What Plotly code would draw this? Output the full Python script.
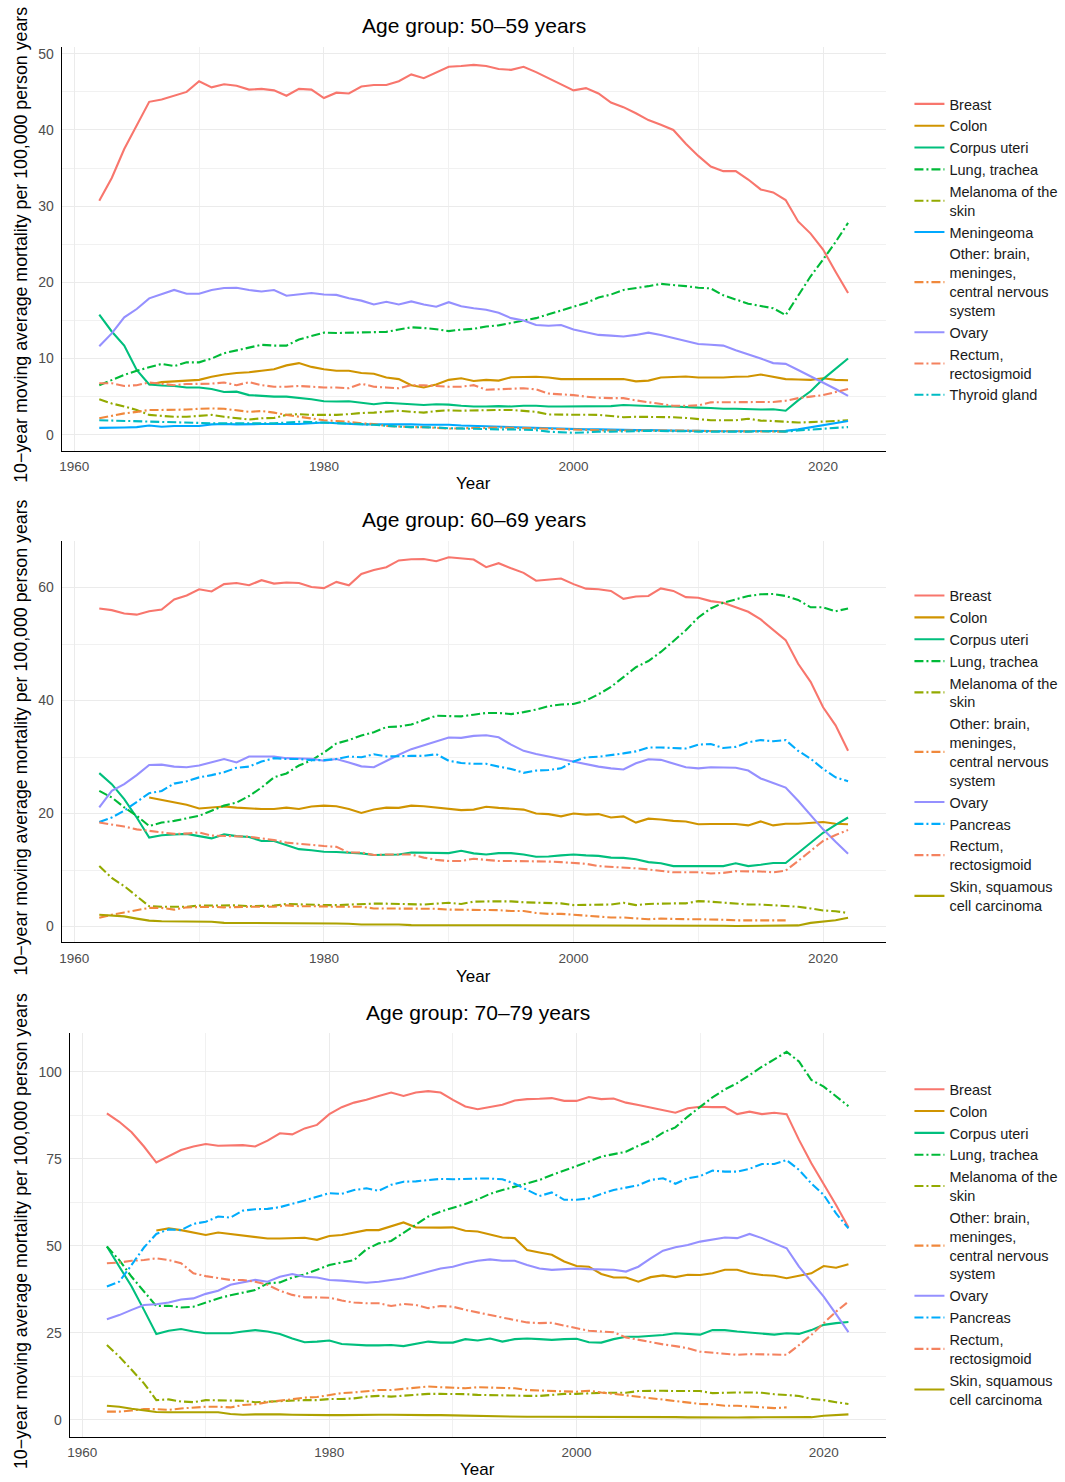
import plotly.graph_objects as go

NA = None
years = list(range(1962, 2023))

# ---------------- Age group 50-59 ----------------
breast_50 = [30.7, 33.7, 37.5, 40.7, 43.7, 44.0, 44.5, 45.0, 46.4, 45.6,
             46.0, 45.8, 45.3, 45.4, 45.2, 44.5, 45.4, 45.3, 44.2, 44.9,
             44.8, 45.7, 45.9, 45.9, 46.4, 47.3, 46.8, 47.5, 48.3, 48.4,
             48.55, 48.4, 48.0, 47.9, 48.3, 47.6, 46.8, 46.0, 45.2, 45.5,
             44.8, 43.6, 43.0, 42.2, 41.3, 40.7, 40.0, 38.2, 36.6, 35.2,
             34.6, 34.6, 33.5, 32.2, 31.8, 30.8, 28.0, 26.4, 24.3, 21.4, 18.6]
colon_50 = [NA, NA, NA, NA, 6.6, 6.9, 7.0, 7.15, 7.2, 7.6,
            7.9, 8.1, 8.2, 8.4, 8.6, 9.1, 9.4, 8.9, 8.6, 8.4,
            8.4, 8.1, 8.0, 7.5, 7.3, 6.5, 6.2, 6.6, 7.2, 7.4,
            7.05, 7.2, 7.1, 7.55, 7.6, 7.6, 7.5, 7.3, 7.3, 7.3,
            7.35, 7.3, 7.3, 7.0, 7.1, 7.5, 7.55, 7.65, 7.5, 7.5,
            7.5, 7.6, 7.65, 7.9, 7.6, 7.3, 7.25, 7.2, 7.4, 7.2, 7.15]
corpus_50 = [15.75, 13.55, 11.7, 8.5, 6.6, 6.45, 6.4, 6.2, 6.2, 6.0,
             5.6, 5.65, 5.2, 5.1, 5.0, 5.0, 4.85, 4.65, 4.4, 4.35,
             4.4, 4.2, 4.0, 4.2, 4.1, 4.0, 3.9, 4.0, 3.95, 3.8,
             3.7, 3.7, 3.75, 3.7, 3.8, 3.8, 3.7, 3.7, 3.7, 3.7,
             3.72, 3.75, 3.9, 3.8, 3.75, 3.7, 3.7, 3.6, 3.55, 3.5,
             3.4, 3.4, 3.35, 3.3, 3.35, 3.15, 4.5, 5.7, 7.3, 8.6, 10.0]
lung_50 = [6.5, 7.2, 7.85, 8.4, 8.9, 9.3, 9.0, 9.5, 9.5, 10.0,
           10.7, 11.05, 11.4, 11.8, 11.7, 11.7, 12.5, 12.9, 13.4, 13.35,
           13.4, 13.45, 13.5, 13.5, 13.8, 14.1, 14.0, 13.85, 13.6, 13.8,
           13.9, 14.2, 14.35, 14.65, 14.9, 15.3, 15.8, 16.3, 16.8, 17.3,
           18.0, 18.4, 19.0, 19.2, 19.5, 19.8, 19.7, 19.5, 19.3, 19.2,
           18.3, 17.7, 17.2, 16.9, 16.6, 15.7, 18.2, 20.8, 23.0, 25.3, 27.8]
melanoma_50 = [4.65, 4.1, 3.7, 3.25, 2.6, 2.5, 2.35, 2.35, 2.5, 2.6,
               2.35, 2.15, 2.0, 2.15, 2.2, 2.6, 2.7, 2.6, 2.6, 2.6,
               2.7, 2.85, 2.9, 3.0, 3.15, 3.0, 2.9, 3.1, 3.2, 3.15,
               3.2, 3.25, 3.25, 3.25, 3.1, 3.0, 2.65, 2.65, 2.65, 2.65,
               2.6, 2.45, 2.3, 2.35, 2.35, 2.35, 2.3, 2.2, 2.05, 1.9,
               1.9, 1.9, 2.1, 1.85, 1.8, 1.7, 1.6, 1.65, 1.7, 1.8, 1.9]
meningeoma_50 = [0.9, 0.9, 0.95, 1.0, 1.2, 1.05, 1.15, 1.15, 1.15, 1.35,
                 1.4, 1.35, 1.4, 1.4, 1.4, 1.4, 1.4, 1.5, 1.6, 1.5,
                 1.4, 1.35, 1.35, 1.35, 1.4, 1.35, 1.3, 1.3, 1.3, 1.2,
                 1.15, 1.1, 1.05, 1.0, 0.95, 0.9, 0.85, 0.8, 0.7, 0.7,
                 0.7, 0.65, 0.65, 0.6, 0.6, 0.55, 0.55, 0.5, 0.5, 0.45,
                 0.45, 0.45, 0.45, 0.45, 0.5, 0.5, 0.7, 0.95, 1.2, 1.5, 1.8]
other_50 = [2.15, 2.5, 2.8, 3.0, 3.25, 3.25, 3.25, 3.3, 3.4, 3.45,
            3.4, 3.2, 3.0, 3.1, 2.9, 2.6, 2.35, 2.15, 1.9, 1.8,
            1.7, 1.5, 1.4, 1.15, 1.05, 1.0, 1.0, 0.9, 0.8, 0.85,
            0.85, 0.9, 0.95, 0.9, 0.85, 0.8, 0.75, 0.7, 0.65, 0.6,
            0.6, 0.55, 0.55, 0.55, 0.6, 0.6, 0.6, 0.55, 0.5, 0.45,
            0.45, 0.45, 0.45, 0.45, 0.4, 0.4, NA, NA, NA, NA, NA]
ovary_50 = [11.6, 13.3, 15.4, 16.5, 17.9, 18.5, 19.0, 18.5, 18.5, 19.0,
            19.25, 19.3, 19.0, 18.8, 19.0, 18.25, 18.4, 18.6, 18.4, 18.35,
            17.9, 17.6, 17.1, 17.45, 17.1, 17.5, 17.1, 16.8, 17.4, 16.85,
            16.6, 16.4, 16.0, 15.3, 15.0, 14.4, 14.3, 14.4, 13.8, 13.4,
            13.1, 13.0, 12.9, 13.1, 13.4, 13.1, 12.7, 12.3, 11.9, 11.8,
            11.7, 11.1, 10.6, 10.0, 9.4, 9.3, 8.5, 7.7, 6.9, 6.0, 5.1]
rectum_50 = [6.75, 6.75, 6.4, 6.5, 6.85, 6.65, 6.5, 6.65, 6.65, 6.7,
             6.85, 6.5, 6.9, 6.5, 6.3, 6.3, 6.4, 6.3, 6.2, 6.2,
             6.1, 6.7, 6.3, 6.2, 6.1, 6.5, 6.5, 6.4, 6.3, 6.3,
             6.5, 5.9, 5.95, 6.0, 6.1, 5.95, 5.4, 5.3, 5.2, 5.0,
             4.85, 4.8, 4.8, 4.5, 4.25, 4.0, 3.8, 3.8, 3.85, 4.25,
             4.25, 4.25, 4.25, 4.25, 4.3, 4.45, 4.8, 5.0, 5.2, 5.6, 6.0]
thyroid_50 = [1.9, 1.85, 1.8, 1.75, 1.7, 1.65, 1.6, 1.55, 1.5, 1.5,
              1.5, 1.5, 1.5, 1.5, 1.5, 1.6, 1.7, 1.65, 1.6, 1.55,
              1.45, 1.4, 1.3, 1.15, 1.05, 1.0, 1.0, 0.95, 0.85, 0.8,
              0.8, 0.75, 0.7, 0.7, 0.65, 0.6, 0.4, 0.35, 0.25, 0.3,
              0.4, 0.4, 0.4, 0.45, 0.5, 0.5, 0.5, 0.45, 0.4, 0.4,
              0.35, 0.35, 0.4, 0.45, 0.4, 0.4, 0.55, 0.7, 0.8, 0.9, 1.0]

# ---------------- Age group 60-69 ----------------
breast_60 = [56.3, 56.0, 55.4, 55.2, 55.8, 56.1, 57.9, 58.6, 59.7, 59.3,
             60.6, 60.8, 60.4, 61.3, 60.7, 60.9, 60.8, 60.1, 59.9, 61.0,
             60.4, 62.4, 63.1, 63.6, 64.8, 65.0, 65.05, 64.65, 65.35, 65.2,
             64.95, 63.6, 64.3, 63.4, 62.6, 61.2, 61.4, 61.6, 60.6, 59.8,
             59.7, 59.4, 58.0, 58.4, 58.5, 59.85, 59.4, 58.3, 58.2, 57.6,
             57.3, 56.5, 55.7, 54.35, 52.45, 50.7, 46.5, 43.3, 38.8, 35.6, 31.1]
colon_60 = [NA, NA, NA, NA, 22.85, 22.4, 21.95, 21.55, 20.9, 21.05,
            21.25, 21.05, 20.9, 20.8, 20.8, 21.05, 20.8, 21.25, 21.4, 21.3,
            20.8, 20.1, 20.7, 21.05, 21.0, 21.4, 21.3, 21.05, 20.8, 20.6,
            20.7, 21.2, 21.0, 20.9, 20.7, 20.0, 19.9, 19.5, 20.0, 19.8,
            19.9, 19.3, 19.5, 18.4, 19.1, 18.95, 18.7, 18.6, 18.1, 18.15,
            18.15, 18.15, 17.9, 18.6, 17.9, 18.2, 18.2, 18.35, 18.5, 18.2, 18.1]
corpus_60 = [27.15, 25.2, 22.55, 19.3, 15.75, 16.15, 16.3, 16.4, 16.0, 15.6,
             16.3, 16.0, 15.85, 15.15, 15.15, 14.45, 13.7, 13.5, 13.25, 13.2,
             13.1, 12.95, 12.65, 12.75, 12.75, 13.1, 13.1, 13.1, 13.0, 13.4,
             12.95, 12.75, 13.0, 13.0, 12.75, 12.35, 12.4, 12.6, 12.75, 12.6,
             12.5, 12.2, 12.15, 11.9, 11.4, 11.2, 10.7, 10.7, 10.7, 10.6,
             10.7, 11.2, 10.7, 10.95, 11.25, 11.25, 13.05, 14.85, 16.6, 18.0, 19.3]
lung_60 = [24.0, 22.85, 21.1, 19.6, 17.8, 18.4, 18.7, 19.1, 19.6, 20.5,
           21.4, 21.95, 23.1, 24.6, 26.4, 27.1, 28.5, 29.4, 30.8, 32.4,
           33.0, 33.8, 34.4, 35.3, 35.4, 35.75, 36.5, 37.3, 37.25, 37.2,
           37.5, 37.8, 37.8, 37.6, 37.95, 38.4, 39.0, 39.3, 39.4, 40.0,
           41.1, 42.4, 44.15, 45.9, 47.0, 48.6, 50.5, 52.45, 54.7, 56.3,
           57.3, 57.95, 58.5, 58.8, 58.85, 58.5, 57.8, 56.5, 56.5, 55.8, 56.3]
melanoma_60 = [10.7, 8.6, 7.15, 5.4, 3.6, 3.5, 3.5, 3.5, 3.7, 3.7,
               3.75, 3.75, 3.6, 3.6, 3.7, 4.0, 3.9, 3.9, 3.8, 3.8,
               3.9, 3.9, 4.05, 4.05, 4.0, 3.9, 3.9, 4.05, 4.2, 4.0,
               4.4, 4.45, 4.45, 4.45, 4.3, 4.2, 4.2, 4.1, 3.8, 3.8,
               3.8, 3.9, 4.2, 3.8, 4.0, 4.1, 4.1, 4.1, 4.5, 4.4,
               4.2, 4.1, 3.9, 3.9, 3.8, 3.7, 3.5, 3.2, 2.85, 2.7, 2.4]
other_60 = [1.55, 2.1, 2.5, 2.9, 3.3, 3.3, 3.0, 3.4, 3.5, 3.5,
            3.4, 3.5, 3.5, 3.5, 3.5, 3.75, 3.6, 3.6, 3.5, 3.5,
            3.5, 3.5, 3.2, 3.2, 3.15, 3.15, 3.15, 3.15, 3.0, 3.0,
            3.0, 2.95, 2.9, 2.75, 2.75, 2.4, 2.25, 2.25, 2.1, 1.85,
            1.7, 1.6, 1.6, 1.5, 1.3, 1.4, 1.3, 1.3, 1.3, 1.3,
            1.2, 1.1, 1.1, 1.1, 1.1, 1.1, NA, NA, NA, NA, NA]
ovary_60 = [21.1, 24.0, 25.2, 26.8, 28.6, 28.65, 28.3, 28.2, 28.5, 29.05,
            29.65, 29.05, 30.1, 30.1, 30.1, 29.8, 29.7, 29.7, 29.35, 29.65,
            29.05, 28.35, 28.2, 29.35, 30.4, 31.4, 32.1, 32.8, 33.45, 33.4,
            33.75, 33.85, 33.5, 32.2, 31.1, 30.55, 30.1, 29.6, 29.2, 28.8,
            28.3, 28.0, 27.8, 28.9, 29.6, 29.5, 28.8, 28.2, 28.0, 28.2,
            28.15, 28.1, 27.6, 26.2, 25.4, 24.6, 22.25, 19.8, 17.2, 15.0, 12.9]
pancreas_60 = [18.5, 19.3, 20.5, 22.1, 23.6, 24.0, 25.3, 25.7, 26.4, 26.8,
               27.3, 28.1, 28.3, 29.2, 29.8, 29.65, 29.65, 29.45, 29.45, 29.65,
               30.1, 29.95, 30.5, 30.1, 30.2, 30.2, 30.2, 30.5, 29.35, 28.95,
               28.8, 28.8, 28.3, 27.9, 27.2, 27.6, 27.7, 28.0, 29.2, 29.95,
               30.05, 30.3, 30.65, 31.0, 31.7, 31.7, 31.6, 31.5, 32.2, 32.3,
               31.6, 31.8, 32.6, 33.0, 32.8, 33.0, 31.1, 29.7, 27.9, 26.4, 25.7]
rectum_60 = [18.4, 18.1, 17.7, 17.2, 16.9, 16.65, 16.4, 16.45, 16.65, 16.1,
             16.0, 15.9, 15.9, 15.6, 15.3, 14.85, 14.65, 14.35, 14.25, 14.1,
             13.1, 13.1, 12.65, 12.75, 12.75, 12.75, 12.2, 11.8, 11.6, 11.6,
             12.0, 11.8, 11.6, 11.6, 11.6, 11.6, 11.5, 11.4, 11.2, 11.1,
             10.7, 10.6, 10.5, 10.3, 10.1, 9.8, 9.6, 9.6, 9.6, 9.4,
             9.5, 9.8, 9.8, 9.75, 9.6, 9.9, 11.6, 13.4, 15.15, 16.2, 17.1]
skin_60 = [2.1, 2.0, 1.8, 1.4, 1.05, 0.95, 0.95, 0.95, 0.85, 0.85,
           0.65, 0.65, 0.65, 0.6, 0.65, 0.65, 0.6, 0.6, 0.55, 0.55,
           0.5, 0.35, 0.35, 0.4, 0.35, 0.25, 0.25, 0.25, 0.2, 0.2,
           0.2, 0.2, 0.2, 0.2, 0.2, 0.2, 0.2, 0.2, 0.2, 0.2,
           0.2, 0.2, 0.2, 0.2, 0.2, 0.2, 0.15, 0.15, 0.15, 0.15,
           0.15, 0.1, 0.1, 0.1, 0.1, 0.1, 0.2, 0.65, 0.85, 1.1, 1.55]

# ---------------- Age group 70-79 ----------------
breast_70 = [88.0, 85.6, 82.6, 78.5, 73.9, 75.8, 77.5, 78.5, 79.2, 78.7,
             78.9, 78.9, 78.5, 80.2, 82.3, 82.0, 83.7, 84.7, 87.8, 89.8,
             91.1, 91.9, 93.0, 94.0, 93.0, 94.0, 94.4, 94.0, 91.9, 90.0,
             89.2, 89.8, 90.5, 91.7, 92.1, 92.2, 92.4, 91.6, 91.6, 92.7,
             92.1, 92.3, 91.1, 90.4, 89.7, 88.8, 88.2, 89.5, 89.9, 89.8,
             89.8, 87.8, 88.5, 87.8, 88.2, 87.8, 80.4, 73.7, 67.9, 61.7, 55.3]
colon_70 = [NA, NA, NA, NA, 54.4, 55.0, 54.5, 53.8, 53.1, 53.8,
            53.4, 53.0, 52.4, 52.1, 52.1, 52.2, 52.3, 51.7, 52.8, 53.1,
            53.8, 54.5, 54.5, 55.5, 56.7, 55.3, 55.2, 55.2, 55.3, 54.3,
            54.1, 53.2, 52.4, 52.2, 48.8, 48.1, 47.4, 45.5, 44.2, 44.0,
            41.9, 40.9, 40.9, 39.7, 41.0, 41.5, 41.0, 41.7, 41.6, 42.1,
            43.1, 43.1, 42.1, 41.6, 41.4, 40.7, 41.4, 42.1, 44.2, 43.7, 44.7]
corpus_70 = [49.8, 44.0, 38.3, 31.6, 24.7, 25.6, 26.1, 25.4, 24.9, 24.9,
             24.9, 25.4, 25.8, 25.4, 24.7, 23.4, 22.3, 22.5, 22.8, 21.8,
             21.5, 21.4, 21.4, 21.5, 21.2, 21.8, 22.5, 22.2, 22.2, 23.2,
             22.8, 23.4, 22.5, 23.2, 23.4, 23.2, 23.0, 23.2, 23.3, 22.3,
             22.2, 23.2, 23.9, 23.9, 24.1, 24.4, 24.9, 24.6, 24.5, 25.8,
             25.8, 25.4, 25.1, 24.7, 24.5, 24.9, 24.7, 25.8, 27.3, 27.8, 28.1]
lung_70 = [49.8, 45.9, 41.1, 36.8, 32.7, 32.8, 32.3, 32.5, 33.7, 34.9,
           35.8, 36.6, 37.3, 39.2, 39.5, 40.9, 41.8, 43.1, 44.5, 45.2,
           45.9, 49.0, 50.7, 51.4, 53.8, 56.0, 58.4, 59.8, 60.8, 62.0,
           63.3, 64.9, 66.0, 67.0, 67.9, 68.9, 70.3, 71.6, 72.7, 74.2,
           75.6, 76.4, 77.0, 78.7, 80.2, 82.5, 84.0, 87.1, 89.8, 92.6,
           94.9, 96.7, 99.0, 101.4, 103.5, 105.7, 102.9, 97.6, 95.7, 92.8, 90.1]
melanoma_70 = [21.5, 18.2, 14.4, 10.5, 5.7, 5.9, 5.3, 5.1, 5.7, 5.7,
               5.5, 5.5, 5.1, 5.3, 5.3, 5.6, 5.7, 5.7, 6.0, 6.0,
               6.2, 6.7, 6.9, 6.7, 7.0, 7.2, 7.5, 7.5, 7.5, 7.4,
               7.2, 7.2, 7.0, 7.0, 6.9, 6.9, 7.2, 7.5, 7.5, 7.7,
               7.8, 7.8, 7.8, 8.3, 8.4, 8.4, 8.3, 8.3, 8.3, 7.7,
               7.9, 7.9, 7.9, 7.8, 7.4, 7.2, 6.9, 6.0, 5.7, 5.1, 4.6]
other_70 = [2.4, 2.4, 2.7, 3.1, 3.1, 2.9, 3.3, 3.6, 3.8, 3.8,
            3.6, 4.3, 4.5, 5.1, 5.6, 6.0, 6.4, 6.6, 7.2, 7.7,
            7.9, 8.2, 8.6, 8.6, 9.0, 9.4, 9.6, 9.4, 9.2, 9.1,
            9.4, 9.3, 9.1, 9.1, 8.6, 8.4, 8.3, 8.2, 8.1, 8.4,
            7.9, 7.5, 7.0, 6.7, 6.2, 5.7, 5.5, 5.1, 4.6, 4.5,
            4.1, 4.1, 3.8, 3.6, 3.4, 3.6, NA, NA, NA, NA, NA]
ovary_70 = [28.9, 30.1, 31.6, 33.0, 33.2, 33.7, 34.6, 34.9, 36.2, 37.1,
            38.8, 39.5, 40.2, 39.7, 41.1, 41.9, 41.1, 40.9, 40.2, 40.0,
            39.7, 39.4, 39.7, 40.2, 40.7, 41.6, 42.6, 43.5, 44.0, 45.0,
            45.7, 46.1, 45.7, 45.7, 44.5, 43.5, 43.1, 43.3, 43.5, 43.3,
            43.3, 43.1, 42.6, 44.0, 46.4, 48.6, 49.6, 50.2, 51.2, 51.7,
            52.4, 52.2, 53.4, 52.2, 50.7, 49.3, 44.0, 39.7, 35.4, 30.4, 25.2]
pancreas_70 = [38.3, 39.7, 44.5, 49.5, 53.4, 54.7, 54.5, 56.3, 56.9, 58.4,
               58.1, 60.1, 60.5, 60.6, 61.1, 62.0, 63.0, 64.1, 65.1, 64.9,
               66.0, 66.5, 65.8, 67.5, 68.4, 68.5, 68.9, 69.2, 69.1, 69.3,
               69.3, 69.3, 69.1, 67.8, 66.0, 64.3, 65.3, 63.2, 63.2, 63.6,
               64.9, 66.0, 66.7, 67.4, 68.9, 69.4, 67.8, 69.4, 70.0, 71.6,
               71.3, 71.3, 72.1, 73.5, 73.5, 74.6, 71.8, 67.9, 64.6, 59.3, 55.0]
rectum_70 = [45.0, 45.2, 45.7, 45.9, 46.4, 45.9, 45.0, 42.1, 41.3, 40.7,
             40.2, 40.2, 39.7, 38.8, 37.1, 35.9, 35.2, 35.2, 35.1, 34.3,
             33.7, 33.5, 33.5, 32.7, 33.3, 33.0, 32.1, 32.7, 32.5, 31.6,
             30.8, 30.1, 29.4, 28.7, 28.0, 27.8, 27.9, 27.1, 26.3, 25.6,
             25.4, 25.2, 23.7, 23.0, 22.2, 21.7, 21.2, 20.6, 19.6, 19.3,
             19.1, 18.7, 18.9, 18.9, 18.9, 18.7, 21.5, 24.4, 27.8, 31.1, 34.0]
skin_70 = [4.1, 3.8, 3.2, 2.7, 2.3, 2.2, 2.2, 2.3, 2.4, 2.2,
           1.7, 1.5, 1.6, 1.7, 1.6, 1.5, 1.4, 1.4, 1.4, 1.4,
           1.5, 1.5, 1.5, 1.5, 1.4, 1.4, 1.4, 1.4, 1.3, 1.3,
           1.2, 1.2, 1.1, 1.0, 0.9, 0.9, 0.9, 0.85, 0.8, 0.9,
           1.0, 1.0, 1.0, 0.9, 0.9, 0.8, 0.8, 0.75, 0.7, 0.7,
           0.7, 0.7, 0.75, 0.8, 0.8, 0.85, 0.9, 0.8, 1.2, 1.5, 1.6]

panel_titles = ["Age group: 50\u201359 years", "Age group: 60\u201369 years", "Age group: 70\u201379 years"]
x_ticks = [1960, 1980, 2000, 2020]
y_title = "10\u2212year moving average mortality per 100,000 person years"

# ---------------- styling ----------------
styles = {
    "Breast": ("#F8766D", "solid"),
    "Colon": ("#D09400", "solid"),
    "Corpus uteri": ("#00BF7D", "solid"),
    "Lung, trachea": ("#00BA38", "dash"),
    "Melanoma of the skin": ("#93AA00", "dash"),
    "Meningeoma": ("#00A9FF", "solid"),
    "Other: brain, meninges, central nervous system": ("#F0883C", "dash"),
    "Ovary": ("#9590FF", "solid"),
    "Pancreas": ("#00ACFC", "dash"),
    "Rectum, rectosigmoid": ("#F4825F", "dash"),
    "Skin, squamous cell carcinoma": ("#ADA200", "solid"),
    "Thyroid gland": ("#00BCC4", "dash"),
}
legend_labels = {
    "Melanoma of the skin": "Melanoma of the<br>skin",
    "Other: brain, meninges, central nervous system": "Other: brain,<br>meninges,<br>central nervous<br>system",
    "Rectum, rectosigmoid": "Rectum,<br>rectosigmoid",
    "Skin, squamous cell carcinoma": "Skin, squamous<br>cell carcinoma",
}
DASH = "9px,3px,2px,3px"

panels = [
    [("Breast", breast_50), ("Colon", colon_50), ("Corpus uteri", corpus_50),
     ("Lung, trachea", lung_50), ("Melanoma of the skin", melanoma_50),
     ("Meningeoma", meningeoma_50),
     ("Other: brain, meninges, central nervous system", other_50),
     ("Ovary", ovary_50), ("Rectum, rectosigmoid", rectum_50), ("Thyroid gland", thyroid_50)],
    [("Breast", breast_60), ("Colon", colon_60), ("Corpus uteri", corpus_60),
     ("Lung, trachea", lung_60), ("Melanoma of the skin", melanoma_60),
     ("Other: brain, meninges, central nervous system", other_60),
     ("Ovary", ovary_60), ("Pancreas", pancreas_60), ("Rectum, rectosigmoid", rectum_60),
     ("Skin, squamous cell carcinoma", skin_60)],
    [("Breast", breast_70), ("Colon", colon_70), ("Corpus uteri", corpus_70),
     ("Lung, trachea", lung_70), ("Melanoma of the skin", melanoma_70),
     ("Other: brain, meninges, central nervous system", other_70),
     ("Ovary", ovary_70), ("Pancreas", pancreas_70), ("Rectum, rectosigmoid", rectum_70),
     ("Skin, squamous cell carcinoma", skin_70)],
]

W, H = 1065, 1482
FONT = "Liberation Sans, Arial, Helvetica, sans-serif"
# pixel geometry of each panel: (left, right, top, bottom)
geom = [(59, 885, 46, 450), (59, 885, 540, 942), (67, 885, 1033, 1437)]
y_ranges = [[-2.1, 50.9], [-2.8, 68.3], [-4.9, 111.0]]
y_dticks = [10, 20, 25]
legend_tops = [87, 579, 1073]
title_y = [25, 519, 1012]
xtitle_y = [483, 976, 1469]

fig = go.Figure()
for i, series in enumerate(panels):
    sfx = "" if i == 0 else str(i + 1)
    leg = "legend" + sfx
    for name, vals in series:
        color, dash = styles[name]
        fig.add_trace(go.Scatter(
            x=years, y=vals, mode="lines", name=legend_labels.get(name, name),
            line=dict(color=color, width=2.1, dash=(DASH if dash == "dash" else "solid")),
            connectgaps=False, xaxis="x" + sfx, yaxis="y" + sfx, legend=leg,
            showlegend=True))

layout = dict(width=W, height=H, margin=dict(l=0, r=0, t=0, b=0),
              paper_bgcolor="white", plot_bgcolor="white",
              font=dict(family=FONT, color="black"), annotations=[])

for i in range(3):
    sfx = "" if i == 0 else str(i + 1)
    l, r, t, b = geom[i]
    grid = "#EBEBEB"
    layout["xaxis" + sfx] = dict(
        domain=[l / W, r / W], anchor="y" + sfx, range=[1959, 2025],
        tickmode="array", tickvals=x_ticks, showgrid=True, gridcolor=grid, gridwidth=1.1,
        minor=dict(dtick=10, tick0=1960, showgrid=True, gridcolor="#F1F1F1", gridwidth=0.8),
        zeroline=False, showline=True, linecolor="black", linewidth=1.3,
        ticks="outside", ticklen=3, tickcolor="rgba(0,0,0,0)",
        tickfont=dict(size=13.5, color="#4D4D4D", family=FONT))
    layout["yaxis" + sfx] = dict(
        domain=[1 - b / H, 1 - t / H], anchor="x" + sfx, range=y_ranges[i],
        tick0=0, dtick=y_dticks[i], showgrid=True, gridcolor=grid, gridwidth=1.1,
        minor=dict(dtick=y_dticks[i] / 2, tick0=0, showgrid=True, gridcolor="#F1F1F1", gridwidth=0.8),
        zeroline=False, showline=True, linecolor="black", linewidth=1.3,
        ticks="outside", ticklen=4, tickcolor="rgba(0,0,0,0)",
        tickfont=dict(size=14, color="#4D4D4D", family=FONT))
    layout["legend" + sfx] = dict(
        x=909 / W, y=1 - legend_tops[i] / H, xanchor="left", yanchor="top",
        bgcolor="rgba(0,0,0,0)", font=dict(size=14.5, color="#1A1A1A", family=FONT),
        tracegroupgap=0, itemwidth=30, title=dict(text=""))
    cx = (l + r) / 2 / W
    layout["annotations"].append(dict(
        text=panel_titles[i], x=cx, y=1 - title_y[i] / H, xref="paper", yref="paper",
        xanchor="center", yanchor="middle", showarrow=False,
        font=dict(size=21, color="black", family=FONT)))
    layout["annotations"].append(dict(
        text="Year", x=cx, y=1 - xtitle_y[i] / H, xref="paper", yref="paper",
        xanchor="center", yanchor="middle", showarrow=False,
        font=dict(size=17, color="black", family=FONT)))
    layout["annotations"].append(dict(
        text=y_title, x=18 / W, y=1 - ((t + b) / 2 - 4) / H, xref="paper", yref="paper",
        xanchor="center", yanchor="middle", showarrow=False, textangle=-90,
        font=dict(size=17.8, color="black", family=FONT)))

fig.update_layout(**layout)
fig.write_html("out.html")
